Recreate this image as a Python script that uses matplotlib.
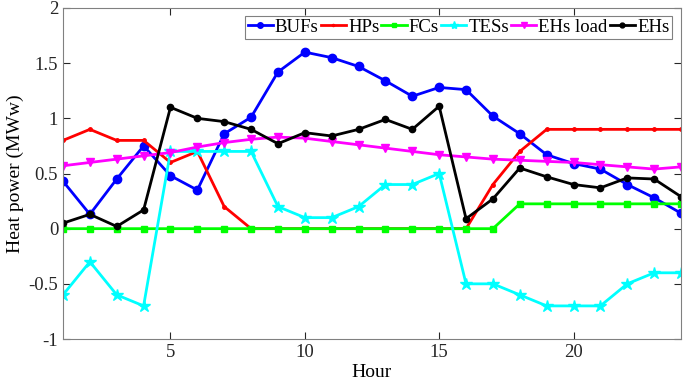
import matplotlib.pyplot as plt
import numpy as np

hours = np.arange(1, 25)
bufs = [0.43, 0.13, 0.45, 0.75, 0.48, 0.35, 0.86, 1.01, 1.42, 1.60, 1.55, 1.47,
        1.34, 1.20, 1.28, 1.26, 1.02, 0.86, 0.67, 0.59, 0.54, 0.40, 0.28, 0.14]
hps = [0.8, 0.9, 0.8, 0.8, 0.6, 0.7, 0.2, 0, 0, 0, 0, 0,
       0, 0, 0, 0, 0.4, 0.7, 0.9, 0.9, 0.9, 0.9, 0.9, 0.9]
fcs = [0] * 17 + [0.225] * 7
tess = [-0.6, -0.3, -0.6, -0.7, 0.7, 0.7, 0.7, 0.7, 0.2, 0.1, 0.1, 0.2,
        0.4, 0.4, 0.5, -0.5, -0.5, -0.6, -0.7, -0.7, -0.7, -0.5, -0.4, -0.4]
ehs_load = [0.57, 0.60, 0.63, 0.66, 0.69, 0.74, 0.78, 0.81, 0.83, 0.82, 0.79, 0.76,
            0.73, 0.70, 0.67, 0.65, 0.63, 0.62, 0.61, 0.60, 0.58, 0.56, 0.54, 0.56]
ehs = [0.05, 0.13, 0.02, 0.17, 1.10, 1.00, 0.97, 0.90, 0.77, 0.87, 0.84, 0.90,
       0.99, 0.90, 1.11, 0.09, 0.27, 0.55, 0.47, 0.40, 0.37, 0.46, 0.45, 0.29]

plt.rcParams['font.family'] = ['Liberation Serif', 'DejaVu Serif']

fig = plt.figure(figsize=(6.85, 3.9), dpi=100)
ax = fig.add_axes([63/685, 1 - 339/390, 618/685, 331/390])

ax.plot(hours, bufs, color='#0000ff', lw=2, marker='o', ms=6, label='BUFs')
ax.plot(hours, hps, color='#ff0000', lw=2, marker='.', ms=5, label='HPs')
ax.plot(hours, fcs, color='#00ff00', lw=2, marker='s', ms=4, label='FCs')
ax.plot(hours, tess, color='#00ffff', lw=2, marker='*', ms=9, label='TESs')
ax.plot(hours, ehs_load, color='#ff00ff', lw=2, marker='v', ms=6, label='EHs load')
ax.plot(hours, ehs, color='#000000', lw=2, marker='o', ms=4.5, label='EHs')

ax.set_xlim(1, 24)
ax.set_ylim(-1, 2)
ax.set_xticks([5, 10, 15, 20])
ax.set_yticks([-1, -0.5, 0, 0.5, 1, 1.5, 2])
ax.set_yticklabels(['-1', '-0.5', '0', '0.5', '1', '1.5', '2'])
ax.tick_params(direction='in', top=True, right=True, labelsize=13.5, colors='#262626', length=5)
for s in ax.spines.values():
    s.set_color('#808080')
ax.set_xlabel('Hour', fontsize=14, labelpad=2)
ax.set_ylabel('Heat power (MWw)', fontsize=14, labelpad=3)

leg = ax.legend(ncol=6, loc='upper right', bbox_to_anchor=(0.9855, 0.976), fontsize=13.5,
                fancybox=False, edgecolor='#808080', handlelength=1.35, handletextpad=0.1,
                columnspacing=0.12, borderpad=0.15, borderaxespad=0.0, framealpha=1)
leg.get_frame().set_linewidth(0.8)
for h, m in zip(leg.get_lines(), [4, 3, 3.5, 6, 4.5, 3.5]):
    h.set_markersize(m)

fig.savefig('out.png', dpi=100)
